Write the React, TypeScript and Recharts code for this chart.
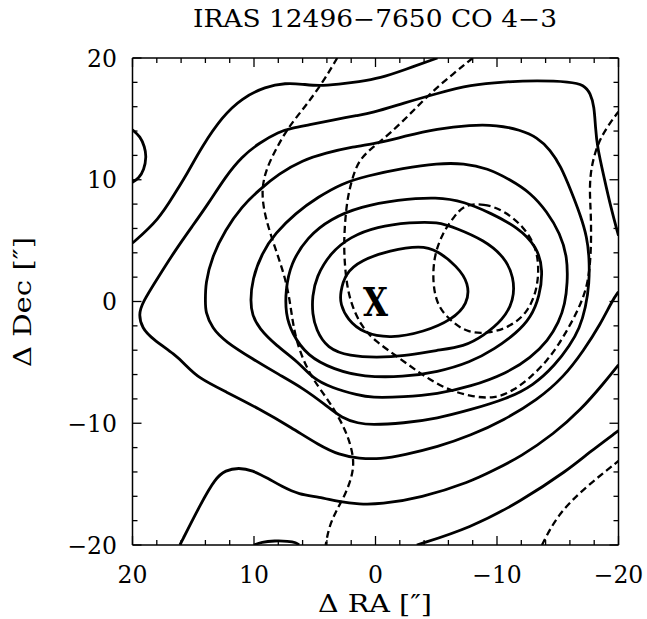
import { ComposedChart, Line, Scatter, XAxis, YAxis } from "recharts"

// axis ticks (arcsec offsets)
const MAJOR_TICKS = [20, 10, 0, -10, -20]
const MINOR_TICKS = [20, 18, 16, 14, 12, 10, 8, 6, 4, 2, 0, -2, -4, -6, -8, -10, -12, -14, -16, -18, -20]

const TITLE = "IRAS 12496\u22127650 CO 4\u22123"
const X_TITLE = "\u0394 RA [\u2033]"
const Y_TITLE = "\u0394 Dec [\u2033]"

// solid contours, [dRA, dDec] — closed ones, innermost first
const CONTOUR_H: [number, number][] = [
  [2.9, 0.7], [2.5, 2.3], [1.2, 3.4], [-1.2, 4.2], [-3.7, 4.6], [-5.1, 4.2], [-6.7, 2.9], [-7.7, 1.5],
  [-7.6, -0.2], [-6.3, -1.5], [-4.0, -2.5], [-1.2, -3.05], [1.0, -2.6], [2.3, -1.5], [2.9, -0.2],
]
const CONTOUR_G: [number, number][] = [
  [5.2, 0.4], [4.9, 2.0], [3.7, 4.0], [2.1, 5.3], [-0.1, 6.15], [-2.9, 6.5], [-5.1, 6.55], [-6.7, 6.0],
  [-8.9, 5.05], [-10.6, 3.7], [-11.4, 2.0], [-11.4, 0.1], [-10.5, -1.5], [-8.9, -2.8], [-7.3, -3.7],
  [-5.1, -4.0], [-2.3, -4.5], [-0.1, -4.6], [2.1, -4.5], [4.0, -3.85], [4.9, -2.3], [5.2, -1.0],
]
const CONTOUR_F: [number, number][] = [
  [7.4, 0.9], [7.0, 3.1], [5.6, 5.3], [3.7, 6.8], [1.2, 7.8], [-1.8, 8.35], [-5.1, 8.6], [-7.3, 8.2],
  [-9.5, 7.25], [-11.7, 6.1], [-13.3, 4.5], [-13.8, 2.6], [-13.5, 0.4], [-12.8, -1.3], [-11.6, -2.6],
  [-9.8, -3.9], [-7.8, -5.0], [-5.1, -5.8], [-2.3, -6.2], [1.0, -6.2], [3.4, -5.6], [5.6, -4.5],
  [6.9, -2.6], [7.4, -1.0],
]
const CONTOUR_E: [number, number][] = [
  [10.3, 0], [10.15, 1.8], [9.35, 4.0], [8.25, 5.6], [6.6, 7.25], [4.7, 8.6], [2.75, 9.7], [0.8, 10.3],
  [-2.3, 10.95], [-5.1, 11.35], [-7.3, 11.35], [-9.2, 10.95], [-11.1, 10.0], [-12.8, 8.9], [-14.1, 7.4],
  [-15.2, 5.6], [-15.8, 3.6], [-15.8, 1.5], [-15.6, -0.2], [-15.1, -1.7], [-14.2, -3.2], [-12.8, -4.6],
  [-10.8, -5.9], [-7.8, -7.0], [-5.1, -7.6], [-2.3, -7.85], [0.4, -7.9], [1.4, -7.7], [3.6, -7.1],
  [5.2, -6.3], [6.3, -5.0], [8.2, -3.6], [9.6, -2.2], [10.15, -1.1],
]
const CONTOUR_D: [number, number][] = [
  [14.0, 0], [14.0, 1.5], [13.45, 3.7], [12.35, 5.9], [11.0, 7.8], [9.6, 9.15], [7.95, 10.5], [6.0, 11.6],
  [4.1, 12.2], [1.9, 12.7], [-0.4, 13.05], [-2.3, 13.55], [-5.1, 14.2], [-7.8, 14.5], [-10.0, 14.5],
  [-11.9, 14.1], [-13.3, 13.5], [-14.4, 12.45], [-15.25, 11.1], [-16.05, 9.2], [-16.9, 7.0], [-17.4, 5.3],
  [-17.6, 3.6], [-17.6, 1.5], [-17.3, -0.5], [-16.8, -2.2], [-16.0, -3.6], [-14.8, -5.2], [-13.0, -6.9],
  [-10.8, -8.0], [-7.8, -8.9], [-5.1, -9.6], [-2.3, -10.0], [0.4, -10.15], [1.4, -10.0], [2.75, -9.6],
  [4.1, -8.5], [6.0, -7.1], [7.95, -6.0], [10.15, -4.7], [12.35, -3.3], [13.45, -2.2], [14.0, -0.85],
]

// solid contours that run off the map edges
const CONTOUR_B: [number, number][] = [
  [-20, 5.4], [-19.35, 7.8], [-18.8, 10.25], [-18.25, 12.7], [-18.1, 14.35], [-18.0, 16.0], [-17.7, 17.1],
  [-17.15, 17.8], [-16.05, 18.05], [-13.3, 18.15], [-10.55, 18.05], [-7.85, 17.8], [-5.1, 17.1],
  [-2.35, 16.3], [0.4, 15.45], [1.4, 15.3], [3.55, 14.9], [5.5, 14.5], [6.85, 14.25], [7.95, 13.95],
  [9.6, 13.0], [11.0, 11.9], [12.35, 10.25], [13.75, 8.05], [15.1, 6.15], [16.45, 4.25], [17.85, 2.05],
  [19.2, -0.1], [19.5, -1.1], [19.2, -2.2], [18.4, -3.05], [16.45, -4.4], [15.65, -5.2], [14.55, -6.3],
  [12.35, -7.4], [9.6, -8.8], [6.85, -10.4], [4.65, -11.8], [3.0, -12.6], [1.35, -12.9], [-0.4, -12.95],
  [-2.35, -12.6], [-5.1, -11.95], [-7.85, -11.0], [-10.55, -9.75], [-13.3, -8.1], [-15.5, -6.2],
  [-17.15, -4.0], [-18.55, -1.8], [-19.5, 0.1], [-20, 0.8],
]
const CONTOUR_A: [number, number][] = [
  [20, 4.8], [17.85, 6.7], [16.5, 8.9], [15.5, 10.5], [14.3, 12.7], [12.6, 15.2], [11.0, 16.7],
  [9.05, 17.65], [7.4, 17.95], [6.0, 17.85], [4.7, 17.7], [3.0, 17.85], [1.4, 18.05], [-0.4, 18.35],
  [-2.3, 19.0], [-5.1, 20],
]
const CONTOUR_SOUTH: [number, number][] = [
  [16.1, -20], [14.3, -16.45], [13.2, -14.55], [12.35, -13.85], [11.25, -13.65], [10.15, -13.85],
  [8.8, -14.55], [7.7, -15.2], [6.3, -15.85], [4.65, -16.05], [3.0, -16.45], [1.35, -16.65],
  [-0.4, -16.65], [-3.7, -16.15], [-7.85, -14.8], [-9.75, -13.85], [-11.95, -12.75], [-14.7, -10.85],
  [-16.9, -8.9], [-18.8, -6.7], [-20, -5.2],
]
const CONTOUR_SE: [number, number][] = [
  [-3.4, -20], [-7.8, -18.6], [-11.9, -16.45], [-15.9, -13.8], [-17.45, -12.5], [-20, -10.6],
]
const CONTOUR_WEST_EDGE: [number, number][] = [
  [20, 14.1], [19.35, 13.55], [19.0, 12.7], [18.85, 11.9], [19.05, 10.8], [19.5, 10.1], [20, 9.8],
]
const CONTOUR_SOUTH_EDGE: [number, number][] = [
  [10.0, -20], [9.4, -19.75], [8.3, -19.65], [7.2, -19.68], [6.5, -19.8], [6.3, -20],
]

// dashed contours
const DASH_WEST: [number, number][] = [
  [3.15, 20], [4.4, 17.9], [5.8, 16.0], [7.15, 14.35], [8.1, 12.7], [9.05, 10.8], [9.4, 9.0], [9.1, 7.0],
  [8.4, 4.8], [7.6, 2.5], [7.1, 0.5], [6.8, -1.9], [6.3, -4.0], [5.3, -6.2], [4.1, -7.8], [3.2, -9.2],
  [2.3, -10.9], [1.75, -12.9], [1.9, -14.3], [2.5, -15.9], [3.3, -17.3], [3.85, -18.6], [4.1, -20],
]
const DASH_CENTRAL: [number, number][] = [
  [-8.0, 20], [-6.45, 18.75], [-4.5, 17.1], [-2.9, 15.45], [-1.2, 13.8], [0.2, 12.7], [1.4, 11.6],
  [1.95, 10.0], [2.35, 8.3], [2.55, 6.0], [2.6, 4.2], [2.45, 2.0], [2.1, 0.0], [1.2, -2.0], [0.1, -3.2],
  [-1.9, -4.6], [-3.8, -6.0], [-5.8, -7.2], [-7.8, -7.8], [-9.8, -8.0], [-11.4, -7.3], [-12.8, -6.2],
  [-14.1, -4.9], [-15.1, -3.5], [-16.1, -1.8], [-16.9, -0.2], [-17.5, 1.5], [-17.75, 4.0], [-17.75, 7.0],
  [-17.6, 9.2], [-17.75, 11.1], [-18.3, 13.0], [-19.1, 14.4], [-20, 15.6],
]
const DASH_LOOP: [number, number][] = [
  [-7.3, 7.95], [-8.9, 8.05], [-10.55, 7.5], [-12.2, 6.15], [-13.2, 4.5], [-13.45, 2.85], [-13.3, 0.95],
  [-12.5, -0.95], [-11.1, -2.05], [-9.5, -2.6], [-7.6, -2.6], [-6.2, -1.6], [-5.1, -0.4], [-4.7, 1.5],
  [-4.8, 3.7], [-5.5, 5.6], [-6.45, 6.95],
]
const DASH_SE: [number, number][] = [
  [-13.7, -20], [-14.95, -17.55], [-17.15, -15.35], [-20, -13.1],
]

const MARKER = [{ x: 0, y: 0 }]

const SOLID_CLOSED = [CONTOUR_H, CONTOUR_G, CONTOUR_F, CONTOUR_E, CONTOUR_D]
const SOLID_OPEN = [CONTOUR_B, CONTOUR_A, CONTOUR_SOUTH, CONTOUR_SE, CONTOUR_WEST_EDGE, CONTOUR_SOUTH_EDGE]
const DASHED_OPEN = [DASH_WEST, DASH_CENTRAL, DASH_SE]
const DASHED_CLOSED = [DASH_LOOP]

const W = 647
const H = 619
const PL = 132.5
const PR = 618.5
const PT = 58
const PB = 545
const FONT = "'DejaVu Serif', serif"

const toPoints = (c: [number, number][]) => c.map(([x, y]) => ({ x, y }))
const isMajor = (v: number) => MAJOR_TICKS.includes(v)
const fmt = (v: number) => (v < 0 ? `\u2212${-v}` : `${v}`)
const tickLen = (v: number) => (isMajor(v) ? 9 : 5)

function BottomTick(props: any) {
  const { x, payload } = props
  const v = payload.value
  return (
    <g>
      <line x1={x} x2={x} y1={PB} y2={PB - tickLen(v)} stroke="#000" strokeWidth={1.3} />
      {isMajor(v) && (
        <text x={x} y={583} textAnchor="middle" fontFamily={FONT} fontSize={23.5} fill="#000">
          {fmt(v)}
        </text>
      )}
    </g>
  )
}

function TopTick(props: any) {
  const { x, payload } = props
  return <line x1={x} x2={x} y1={PT} y2={PT + tickLen(payload.value)} stroke="#000" strokeWidth={1.3} />
}

function LeftTick(props: any) {
  const { y, payload } = props
  const v = payload.value
  return (
    <g>
      <line x1={PL} x2={PL + tickLen(v)} y1={y} y2={y} stroke="#000" strokeWidth={1.3} />
      {isMajor(v) && (
        <text x={117} y={y + 8.5} textAnchor="end" fontFamily={FONT} fontSize={23.5} fill="#000">
          {fmt(v)}
        </text>
      )}
    </g>
  )
}

function RightTick(props: any) {
  const { y, payload } = props
  return <line x1={PR} x2={PR - tickLen(payload.value)} y1={y} y2={y} stroke="#000" strokeWidth={1.3} />
}

const titleLabel = () => (
  <text x={375} y={27} textAnchor="middle" fontFamily={FONT} fontSize={23.5} fill="#000" textLength={364} lengthAdjust="spacingAndGlyphs">
    {TITLE}
  </text>
)

const xLabel = () => (
  <text x={375} y={612} textAnchor="middle" fontFamily={FONT} fontSize={23.5} fill="#000" textLength={114} lengthAdjust="spacingAndGlyphs">
    {X_TITLE}
  </text>
)

const yLabel = () => (
  <text
    x={31}
    y={302}
    transform="rotate(-90, 31, 302)"
    textAnchor="middle"
    fontFamily={FONT}
    fontSize={23.5}
    fill="#000"
    textLength={130}
    lengthAdjust="spacingAndGlyphs"
  >
    {Y_TITLE}
  </text>
)

const renderMarker = (props: any) => (
  <text
    x={props.cx}
    y={props.cy + 14.5}
    textAnchor="middle"
    fontFamily={FONT}
    fontWeight="bold"
    fontSize={40}
    fill="#000"
    textLength={25}
    lengthAdjust="spacingAndGlyphs"
  >
    X
  </text>
)

export default function App() {
  const axisLine = { stroke: "#000", strokeWidth: 1.5 }
  return (
    <div style={{ position: "absolute", left: 0, top: 0, width: W, height: H, background: "#fff" }}>
      <ComposedChart
        width={W}
        height={H}
        margin={{ top: PT - 10, right: W - PR - 10, bottom: 0, left: PL - 100 }}
      >
        <XAxis
          xAxisId="b"
          orientation="bottom"
          type="number"
          dataKey="x"
          domain={[-20, 20]}
          reversed
          allowDataOverflow
          ticks={MINOR_TICKS}
          interval={0}
          tickLine={false}
          tick={(p: any) => <BottomTick {...p} />}
          axisLine={axisLine}
          height={H - PB}
          label={xLabel}
        />
        <XAxis
          xAxisId="t"
          orientation="top"
          type="number"
          dataKey="x"
          domain={[-20, 20]}
          reversed
          allowDataOverflow
          ticks={MINOR_TICKS}
          interval={0}
          tickLine={false}
          tick={(p: any) => <TopTick {...p} />}
          axisLine={axisLine}
          height={10}
          label={titleLabel}
        />
        <YAxis
          yAxisId="l"
          orientation="left"
          type="number"
          dataKey="y"
          domain={[-20, 20]}
          allowDataOverflow
          ticks={MINOR_TICKS}
          interval={0}
          tickLine={false}
          tick={(p: any) => <LeftTick {...p} />}
          axisLine={axisLine}
          width={100}
          label={yLabel}
        />
        <YAxis
          yAxisId="r"
          orientation="right"
          type="number"
          dataKey="y"
          domain={[-20, 20]}
          allowDataOverflow
          ticks={MINOR_TICKS}
          interval={0}
          tickLine={false}
          tick={(p: any) => <RightTick {...p} />}
          axisLine={axisLine}
          width={10}
        />

        {SOLID_CLOSED.map((c, i) => (
          <Line
            key={`sc-${i}`}
            xAxisId="b"
            yAxisId="l"
            data={toPoints(c)}
            dataKey="y"
            type="basisClosed"
            stroke="#000"
            strokeWidth={2.8}
            dot={false}
            activeDot={false}
            isAnimationActive={false}
          />
        ))}
        {SOLID_OPEN.map((c, i) => (
          <Line
            key={`so-${i}`}
            xAxisId="b"
            yAxisId="l"
            data={toPoints(c)}
            dataKey="y"
            type="basis"
            stroke="#000"
            strokeWidth={2.8}
            dot={false}
            activeDot={false}
            isAnimationActive={false}
          />
        ))}
        {DASHED_OPEN.map((c, i) => (
          <Line
            key={`do-${i}`}
            xAxisId="b"
            yAxisId="l"
            data={toPoints(c)}
            dataKey="y"
            type="basis"
            stroke="#000"
            strokeWidth={2.3}
            strokeDasharray="7 4"
            dot={false}
            activeDot={false}
            isAnimationActive={false}
          />
        ))}
        {DASHED_CLOSED.map((c, i) => (
          <Line
            key={`dc-${i}`}
            xAxisId="b"
            yAxisId="l"
            data={toPoints(c)}
            dataKey="y"
            type="basisClosed"
            stroke="#000"
            strokeWidth={2.3}
            strokeDasharray="7 4"
            dot={false}
            activeDot={false}
            isAnimationActive={false}
          />
        ))}
        <Scatter
          xAxisId="b"
          yAxisId="l"
          data={MARKER}
          dataKey="y"
          shape={renderMarker}
          isAnimationActive={false}
        />
      </ComposedChart>
    </div>
  )
}
